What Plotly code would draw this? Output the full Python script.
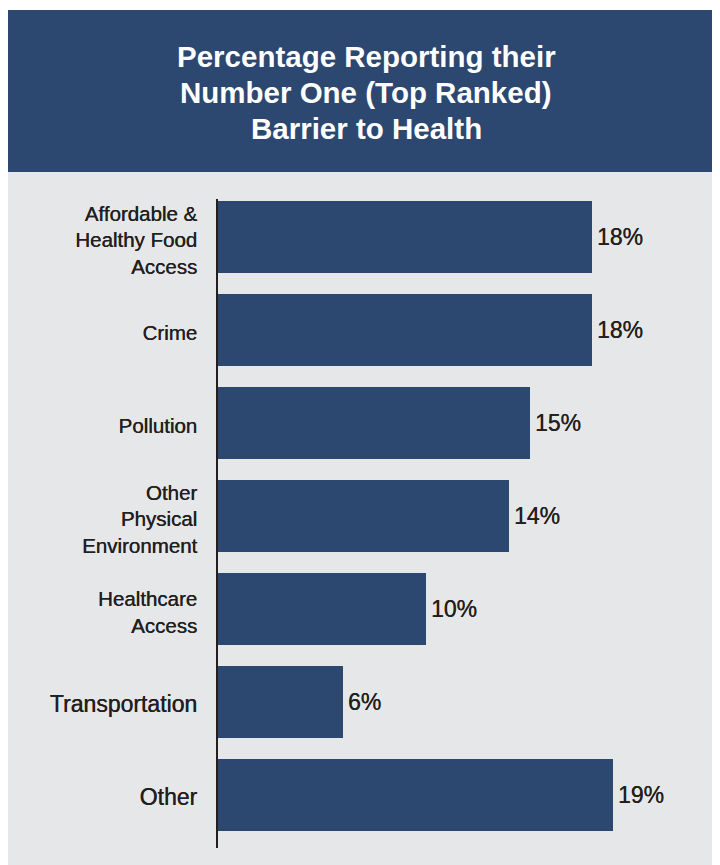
import plotly.graph_objects as go

# ---- data ----
categories = ["Affordable &<br>Healthy Food<br>Access", "Crime", "Pollution",
              "Other<br>Physical<br>Environment", "Healthcare<br>Access",
              "Transportation", "Other"]
values = [18, 18, 15, 14, 10, 6, 19]
title_lines = ["Percentage Reporting their", "Number One (Top Ranked)", "Barrier to Health"]

# ---- style ----
NAVY = "#2c4770"
GRAY = "#e6e7e9"
TEXT = "#231f20"
FONT = "Liberation Sans, Arial, Helvetica, sans-serif"
SHADOW = "0.35px 0 0 #231f20"
W, H = 712, 857
L, R, T, B = 210, 0, 191, 17
plot_h = H - T - B
plot_w = W - L - R

def px_x(p):
    return (p - L) / plot_w

def px_y(p):
    return (H - B - p) / plot_h

big = {"Transportation", "Other"}
ticktext = [f'<span style="font-size:23px">{c}</span>' if c in big else c for c in categories]
pos = list(range(len(categories)))

fig = go.Figure()
fig.add_trace(go.Bar(
    x=values, y=pos, orientation="h",
    marker=dict(color=NAVY, line=dict(width=0)),
    width=0.774,
    text=values, texttemplate="\u200a%{x}%", textposition="outside",
    textfont=dict(family=FONT, size=23, color=TEXT, shadow=SHADOW),
    cliponaxis=False, hoverinfo="skip",
))

title_y = [49, 85, 120]
annotations = [
    dict(text=line, xref="paper", yref="paper", x=px_x(358), y=px_y(yy),
         xanchor="center", yanchor="middle", showarrow=False,
         font=dict(family=FONT, size=29.5, color="white", weight="bold"))
    for line, yy in zip(title_lines, title_y)
]

fig.update_layout(
    width=W, height=H,
    margin=dict(l=L, r=R, t=T, b=B, pad=0),
    paper_bgcolor="white", plot_bgcolor="rgba(0,0,0,0)",
    showlegend=False,
    bargap=0,
    annotations=annotations,
    xaxis=dict(range=[0, plot_w / 20.8], visible=False, fixedrange=True),
    yaxis=dict(range=[6.57, -0.41], tickvals=pos, ticktext=ticktext,
               showline=True, linecolor=TEXT, linewidth=1.5, showgrid=False,
               zeroline=False, ticks="", ticklabelstandoff=15, ticklabelshift=-3,
               tickfont=dict(family=FONT, size=20.5, color=TEXT, shadow=SHADOW),
               fixedrange=True),
    shapes=[
        dict(type="rect", xref="paper", yref="paper", layer="below",
             x0=px_x(-1), x1=px_x(W + 5), y0=px_y(H + 5), y1=px_y(164),
             fillcolor=GRAY, line=dict(width=0)),
        dict(type="rect", xref="paper", yref="paper", layer="below",
             x0=px_x(-1), x1=px_x(W + 5), y0=px_y(164), y1=px_y(2),
             fillcolor=NAVY, line=dict(width=0)),
    ],
)

fig.write_html("out.html")
